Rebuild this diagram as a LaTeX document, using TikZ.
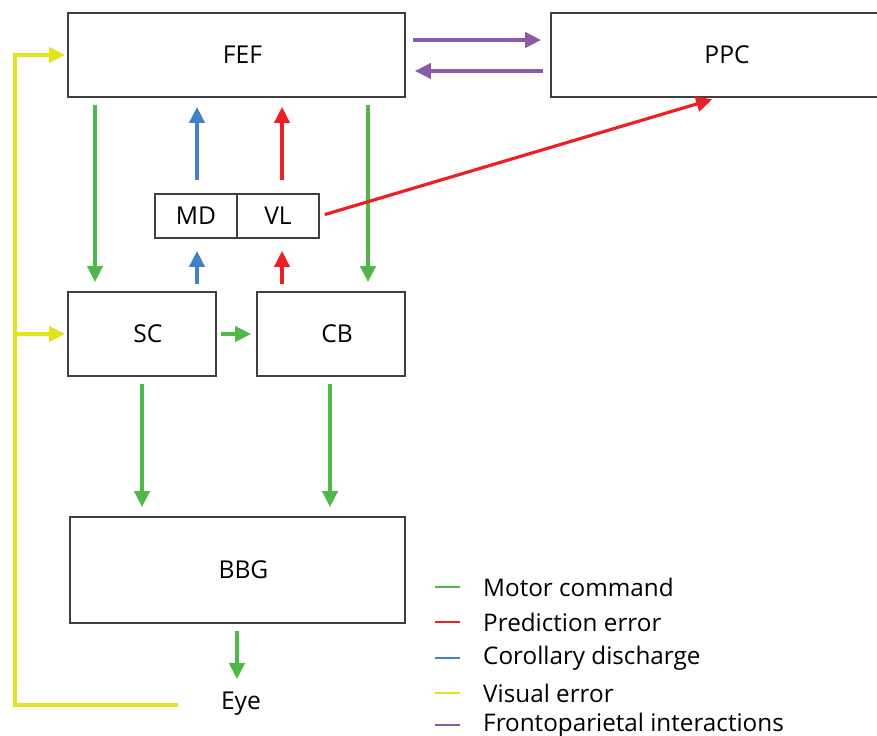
\documentclass[tikz,border=0pt]{standalone}
\usepackage{fontspec}
\setmainfont{Open Sans}
\usetikzlibrary{arrows.meta,calc}
\definecolor{boxgray}{RGB}{64,64,64}
\definecolor{motorgreen}{RGB}{80,184,72}
\definecolor{errorred}{RGB}{236,32,36}
\definecolor{cdblue}{RGB}{66,128,200}
\definecolor{visyellow}{RGB}{228,228,30}
\definecolor{fppurple}{RGB}{138,92,168}
\begin{document}
\begin{tikzpicture}[x=0.03cm,y=-0.03cm,
  box/.style={draw=boxgray, line width=1.6pt, inner sep=0pt, font=\fontsize{21}{25}\selectfont},
  offtext/.style={execute at begin node=\hspace*{0.36cm}},
  link/.style={line width=2.7pt, -{Triangle[width=0.46cm,length=0.48cm]}, shorten <=0.2cm, shorten >=0.27cm},
  motor/.style={link, motorgreen},
  perror/.style={link, errorred},
  cdis/.style={link, cdblue},
  fpint/.style={link, fppurple},
  visual/.style={line width=2.7pt, visyellow, -{Triangle[width=0.46cm,length=0.48cm]}, shorten >=0.06cm},
  key/.style={anchor=west, inner sep=0pt, font=\fontsize{20.7}{25}\selectfont}]
  \useasboundingbox (0,0) rectangle (877,736);
  % boxes
  \node[box, offtext, minimum width=10.11cm, minimum height=2.52cm] (FEF) at (236.5,55) {FEF};
  \node[box, minimum width=10.56cm, minimum height=2.52cm] (PPC) at (727,55) {PPC};
  \node[box, minimum width=2.46cm, minimum height=1.32cm] (MD) at (196,216) {MD};
  \node[box, minimum width=2.46cm, minimum height=1.32cm] (VL) at (278,216) {VL};
  \node[box, offtext, minimum width=4.44cm, minimum height=2.52cm] (SC) at (142,334) {SC};
  \node[box, offtext, minimum width=4.44cm, minimum height=2.52cm] (CB) at (331,334) {CB};
  \node[box, offtext, minimum width=10.05cm, minimum height=3.18cm] (BBG) at (237.5,570) {BBG};
  \node[font=\fontsize{21}{25}\selectfont] (Eye) at (241,704) {Eye};
  % motor commands
  \draw[motor] (FEF.south -| 95,0) -- (SC.north -| 95,0);
  \draw[motor] (FEF.south -| 368,0) -- (CB.north -| 368,0);
  \draw[motor, shorten <=0.12cm, shorten >=0.15cm] (SC) -- (CB);
  \draw[motor] (SC.south -| 142,0) -- (BBG.north -| 142,0);
  \draw[motor] (CB.south -| 330,0) -- (BBG.north -| 330,0);
  \draw[motor] (BBG.south -| 237,0) -- (Eye.north -| 237,0);
  % corollary discharge and prediction error
  \draw[cdis, shorten <=0.39cm] (MD.north -| 197,0) -- (FEF.south -| 197,0);
  \draw[perror, shorten <=0.39cm] (VL.north -| 282,0) -- (FEF.south -| 282,0);
  \draw[cdis, shorten >=0.36cm] (SC.north -| 197,0) -- (MD.south -| 197,0);
  \draw[perror, shorten >=0.36cm] (CB.north -| 282,0) -- (VL.south -| 282,0);
  \draw[perror, shorten <=0.15cm, shorten >=0.15cm] (VL.east) -- (PPC.south -| 717,0);
  % frontoparietal
  \draw[fpint] ($(FEF.east)+(0,-15)$) -- ($(PPC.west)+(0,-15)$);
  \draw[fpint] ($(PPC.west)+(0,16)$) -- ($(FEF.east)+(0,16)$);
  % visual error loop
  \coordinate (eyeEnd) at (178,705);
  \coordinate (branch) at (15,334);
  \draw[visual] (eyeEnd) -- (15,705) |- (FEF.west);
  \draw[visual] (branch) -- (SC.west);
  % legend
  \node[key] (kMotor) at (483,587) {Motor command};
  \node[key] (kError) at (483,622) {Prediction error};
  \node[key] (kCD) at (483,658) {Corollary discharge};
  \node[key] (kVis) at (483,693) {Visual error};
  \node[key] (kFP) at (483,725) {Frontoparietal interactions};
  \draw[motorgreen, line width=2pt] ($(kMotor.west)+(-48,0)$) -- ++(25,0);
  \draw[errorred, line width=2pt] ($(kError.west)+(-48,0)$) -- ++(25,0);
  \draw[cdblue, line width=2pt] ($(kCD.west)+(-48,0)$) -- ++(25,0);
  \draw[visyellow, line width=2pt] ($(kVis.west)+(-48,0)$) -- ++(25,0);
  \draw[fppurple, line width=2pt] ($(kFP.west)+(-48,0)$) -- ++(25,0);
\end{tikzpicture}
\end{document}
